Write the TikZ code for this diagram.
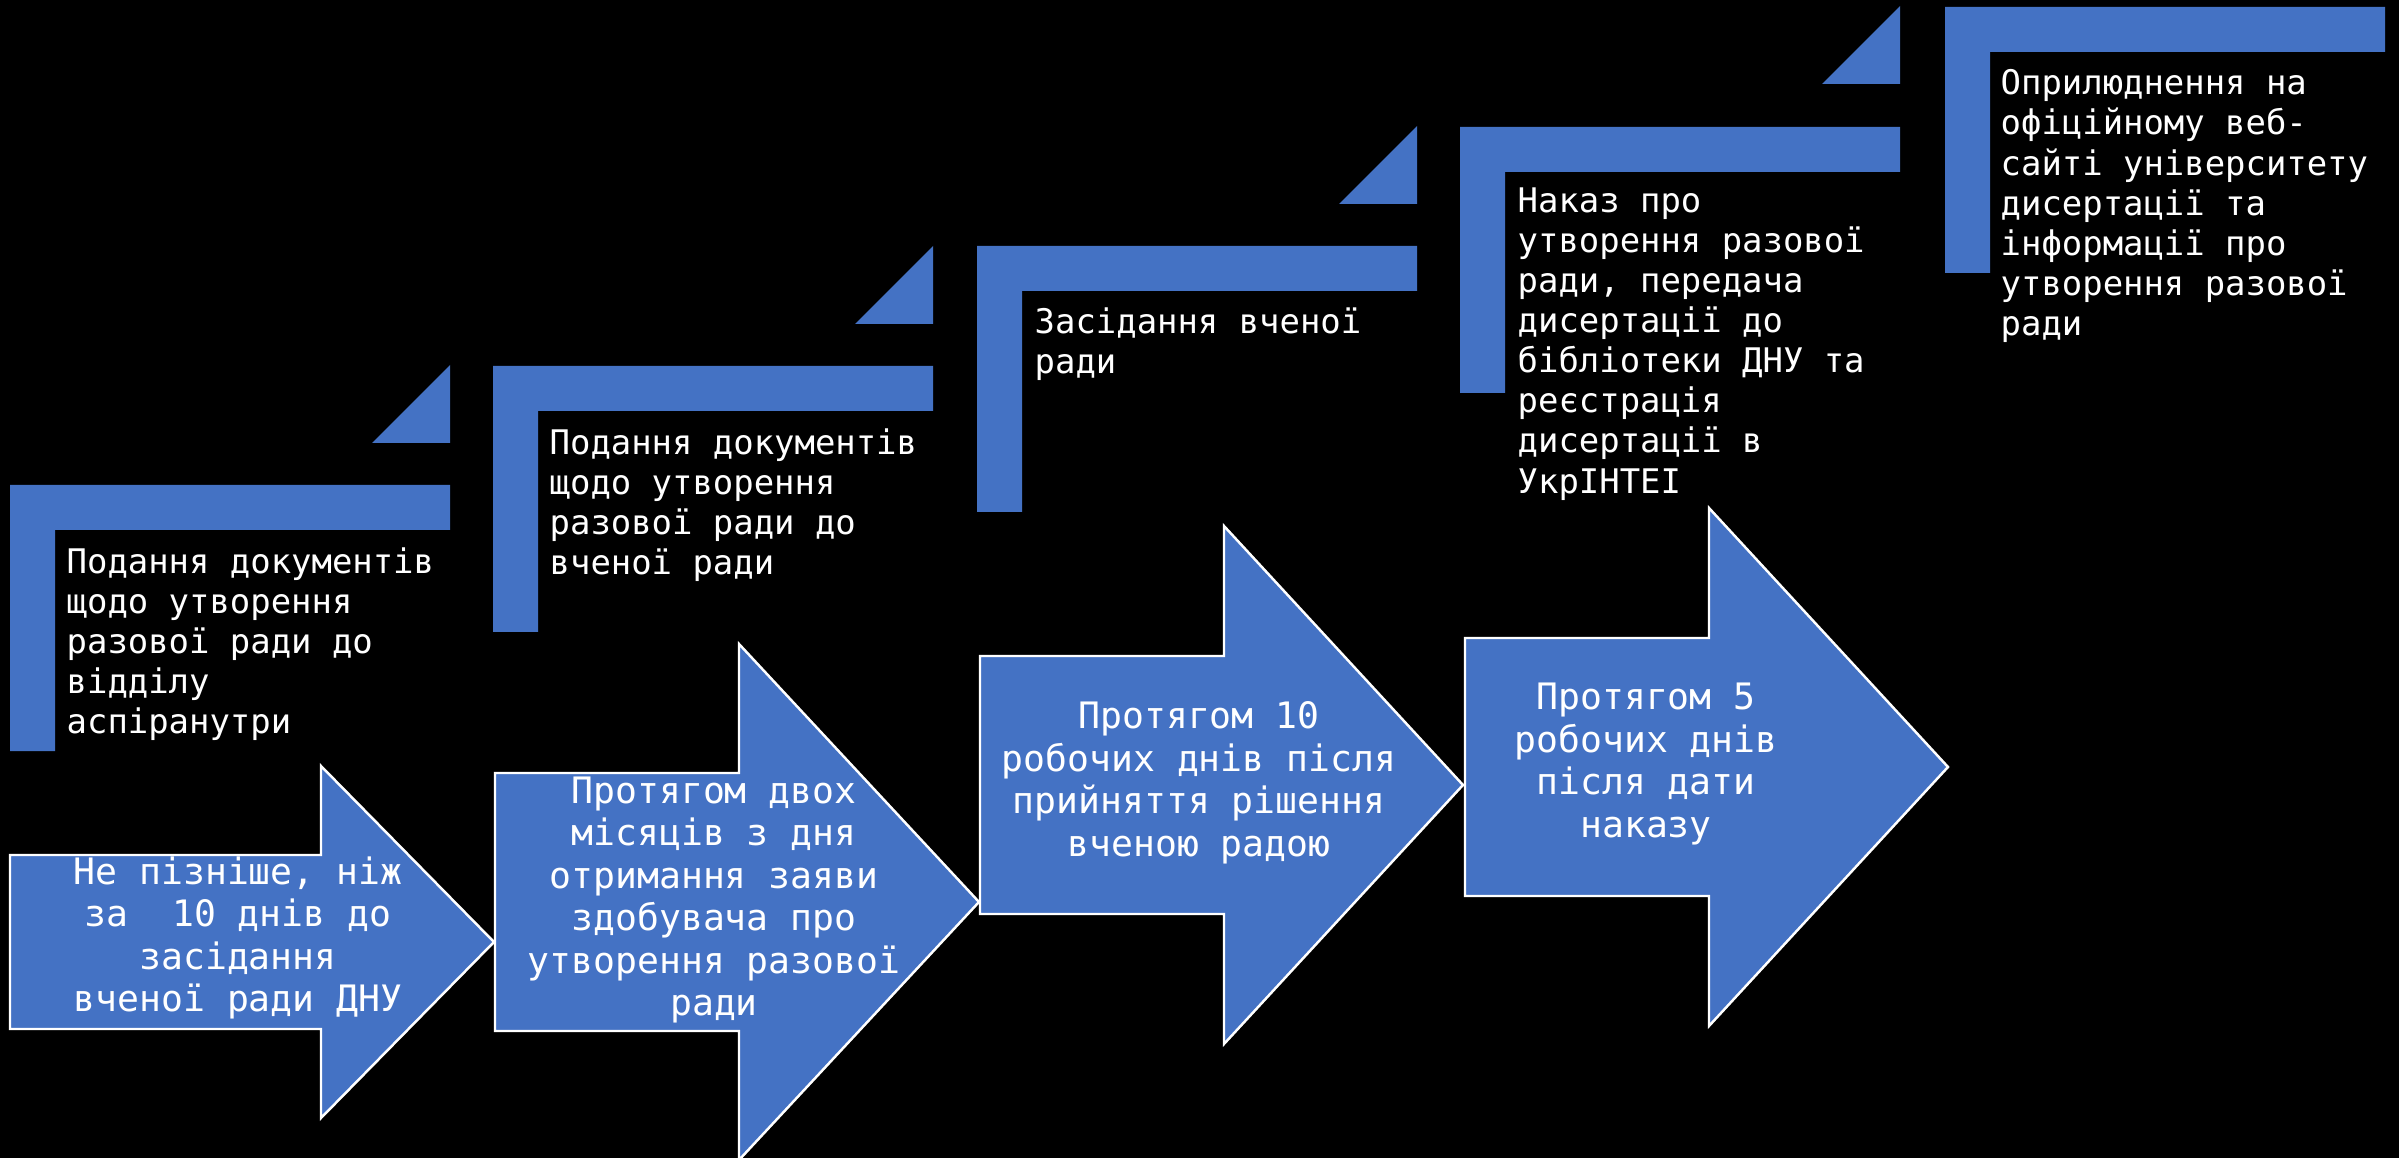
\documentclass[tikz,border=0pt]{standalone}
\usepackage{fontspec}
\newfontfamily\stepfont{DejaVu Sans Mono}
\usetikzlibrary{positioning}
\definecolor{stepblue}{HTML}{4472C4}

\begin{document}
\begin{tikzpicture}[
  x=0.01cm, y=-0.01cm,
  corner/.style={fill=stepblue},
  % text beside each step, hanging from its top-left corner
  stepnote/.style={anchor=north west, align=left, inner sep=0pt, text=white,
    font=\stepfont\fontsize{9.64}{11.4}\selectfont},
  timearrow/.style={fill=stepblue, draw=white, line width=0.7pt, line join=miter},
  timenote/.style={align=center, inner sep=0pt, text=white,
    font=\stepfont\fontsize{10.35}{12.1}\selectfont}
]

% Black page
\useasboundingbox (0,0) rectangle (2399,1158);
\fill[black] (0,0) rectangle (2399,1158);

% Step 1
\fill[corner] (10,485) -- ++(440,0) -- ++(0,45) -- ++(-395,0) -- ++(0,221) -- ++(-45,0) -- cycle;
\fill[corner] (372,443) -- (450,443) -- (450,365) -- cycle;
\node[stepnote] (s1) at (66,547) {Подання документів\\щодо утворення\\разової ради до\\відділу\\аспіранутри};

% Step 2
\fill[corner] (493,366) -- ++(440,0) -- ++(0,45) -- ++(-395,0) -- ++(0,221) -- ++(-45,0) -- cycle;
\fill[corner] (855,324) -- (933,324) -- (933,246) -- cycle;
\node[stepnote] (s2) at (549,428) {Подання документів\\щодо утворення\\разової ради до\\вченої ради};

% Step 3
\fill[corner] (977,246) -- ++(440,0) -- ++(0,45) -- ++(-395,0) -- ++(0,221) -- ++(-45,0) -- cycle;
\fill[corner] (1339,204) -- (1417,204) -- (1417,126) -- cycle;
\node[stepnote] (s3) at (1034,307) {Засідання вченої\\ради};

% Step 4
\fill[corner] (1460,127) -- ++(440,0) -- ++(0,45) -- ++(-395,0) -- ++(0,221) -- ++(-45,0) -- cycle;
\fill[corner] (1822,84) -- (1900,84) -- (1900,6) -- cycle;
\node[stepnote] (s4) at (1517,187) {Наказ про\\утворення разової\\ради, передача\\дисертації до\\бібліотеки ДНУ та\\реєстрація\\дисертації в\\УкрІНТЕІ};

% Step 5 (last, no triangle)
\fill[corner] (1945,7) -- ++(440,0) -- ++(0,45) -- ++(-395,0) -- ++(0,221) -- ++(-45,0) -- cycle;
\node[stepnote] (s5) at (2000,69) {Оприлюднення на\\офіційному веб-\\сайті університету\\дисертації та\\інформації про\\утворення разової\\ради};

% Time limits (block arrows)
\draw[timearrow] (10,855) -- (321,855) -- (321,766) -- (494,942) -- (321,1118) -- (321,1029) -- (10,1029) -- cycle;
\node[timenote] (t1) at (238,938) {Не пізніше, ніж\\за\ \ 10 днів до\\засідання\\вченої ради ДНУ};

\draw[timearrow] (495,773) -- (739,773) -- (739,644) -- (979,902) -- (739,1160) -- (739,1031) -- (495,1031) -- cycle;
\node[timenote] (t2) at (714,900) {Протягом двох\\місяців з дня\\отримання заяви\\здобувача про\\утворення разової\\ради};

\draw[timearrow] (980,656) -- (1224,656) -- (1224,526) -- (1463,785) -- (1224,1044) -- (1224,914) -- (980,914) -- cycle;
\node[timenote] (t3) at (1199,783) {Протягом 10\\робочих днів після\\прийняття рішення\\вченою радою};

\draw[timearrow] (1465,638) -- (1709,638) -- (1709,508) -- (1948,767) -- (1709,1026) -- (1709,896) -- (1465,896) -- cycle;
\node[timenote] (t4) at (1646,764) {Протягом 5\\робочих днів\\після дати\\наказу};

\end{tikzpicture}
\end{document}
